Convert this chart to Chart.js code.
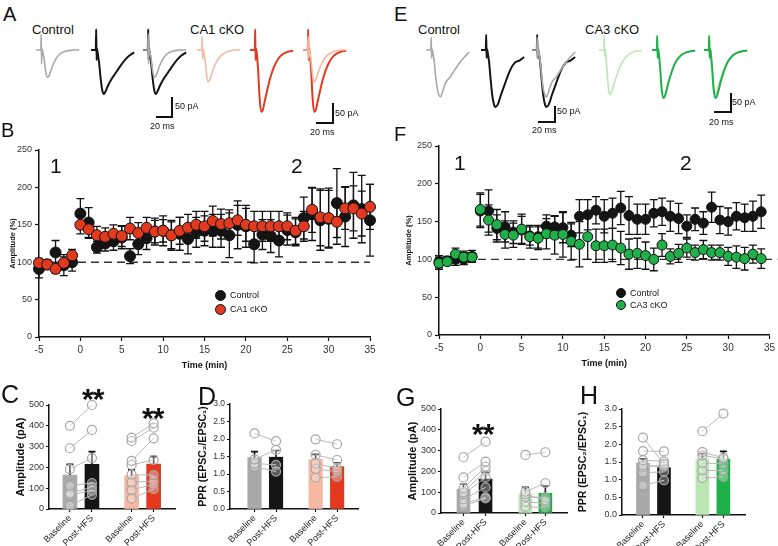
<!DOCTYPE html>
<html><head><meta charset="utf-8">
<script src="https://cdn.jsdelivr.net/npm/chart.js@4.4.0/dist/chart.umd.min.js"></script>
<style>
body{margin:0;background:#fff;}
#root{position:relative;width:778px;height:546px;overflow:hidden;font-family:Arial,"Liberation Sans",sans-serif;color:#111;background:#fff;}
canvas{position:absolute;}
.t{position:absolute;white-space:nowrap;line-height:1;}
.pl{font-size:20px;}
.pl2{font-size:25px;}
.num{font-size:21px;}
.lab{font-size:13px;}
.sbt{font-size:9px;}
.legt{font-size:9px;}
.sb{position:absolute;background:#111;}
.star{position:absolute;font-weight:bold;font-size:30px;line-height:1;letter-spacing:-1px;}
.leg{position:absolute;border-radius:50%;border:1px solid #111;box-sizing:border-box;}
</style></head><body><div id="root">
<!-- panel A -->
<div class="t pl" style="left:3px;top:4px">A</div>
<div class="t lab" style="left:32px;top:23px">Control</div>
<div class="t lab" style="left:190px;top:23px">CA1 cKO</div>
<canvas id="a1" width="44" height="100" style="left:36px;top:20px"></canvas>
<canvas id="a2" width="44" height="100" style="left:91px;top:20px"></canvas>
<canvas id="a3" width="44" height="100" style="left:143px;top:20px"></canvas>
<canvas id="a4" width="44" height="100" style="left:197px;top:20px"></canvas>
<canvas id="a5" width="44" height="100" style="left:250px;top:20px"></canvas>
<canvas id="a6" width="44" height="100" style="left:303px;top:20px"></canvas>
<div class="sb" style="left:171px;top:97px;width:1.5px;height:20px"></div>
<div class="sb" style="left:156px;top:116px;width:17px;height:1.5px"></div>
<div class="t sbt" style="left:175px;top:101.6px">50 pA</div>
<div class="t sbt" style="left:150px;top:121.6px">20 ms</div>
<div class="sb" style="left:332px;top:103px;width:1.5px;height:20px"></div>
<div class="sb" style="left:316px;top:122px;width:18px;height:1.5px"></div>
<div class="t sbt" style="left:335px;top:108.6px">50 pA</div>
<div class="t sbt" style="left:310px;top:127.6px">20 ms</div>
<!-- panel E -->
<div class="t pl" style="left:394px;top:4px">E</div>
<div class="t lab" style="left:418px;top:23px">Control</div>
<div class="t lab" style="left:585px;top:23px">CA3 cKO</div>
<canvas id="e1" width="44" height="100" style="left:426px;top:20px"></canvas>
<canvas id="e2" width="44" height="100" style="left:481px;top:20px"></canvas>
<canvas id="e3" width="44" height="100" style="left:532px;top:20px"></canvas>
<canvas id="e4" width="44" height="100" style="left:599px;top:20px"></canvas>
<canvas id="e5" width="44" height="100" style="left:652px;top:20px"></canvas>
<canvas id="e6" width="44" height="100" style="left:704px;top:20px"></canvas>
<div class="sb" style="left:554px;top:106px;width:1.5px;height:16px"></div>
<div class="sb" style="left:538px;top:121px;width:18px;height:1.5px"></div>
<div class="t sbt" style="left:557px;top:106.6px">50 pA</div>
<div class="t sbt" style="left:532px;top:125.6px">20 ms</div>
<div class="sb" style="left:730px;top:93px;width:1.5px;height:19px"></div>
<div class="sb" style="left:714px;top:111px;width:18px;height:1.5px"></div>
<div class="t sbt" style="left:732px;top:97.6px">50 pA</div>
<div class="t sbt" style="left:709px;top:117.6px">20 ms</div>
<!-- panel B / F -->
<canvas id="chartB" width="390" height="232" style="left:0px;top:140px"></canvas>
<canvas id="chartF" width="389" height="233" style="left:389px;top:136px"></canvas>
<div class="t pl" style="left:1px;top:120px">B</div>
<div class="t pl" style="left:394px;top:124px">F</div>
<div class="t num" style="left:50px;top:155px">1</div>
<div class="t num" style="left:291px;top:155px">2</div>
<div class="t num" style="left:454px;top:152px">1</div>
<div class="t num" style="left:680px;top:152px">2</div>
<div class="leg" style="left:214.5px;top:289.5px;width:11px;height:11px;background:#151515"></div>
<div class="leg" style="left:214.5px;top:303.5px;width:11px;height:11px;background:#e2391f"></div>
<div class="t legt" style="left:230px;top:290.6px">Control</div>
<div class="t legt" style="left:230px;top:304.6px">CA1 cKO</div>
<div class="leg" style="left:616px;top:288px;width:10px;height:10px;background:#151515"></div>
<div class="leg" style="left:616px;top:300px;width:10px;height:10px;background:#20b04a"></div>
<div class="t legt" style="left:630px;top:288.6px">Control</div>
<div class="t legt" style="left:630px;top:300.6px">CA3 cKO</div>
<!-- panels C D G H -->
<canvas id="chartC" width="185" height="151" style="left:0px;top:395px"></canvas>
<canvas id="chartD" width="183" height="152" style="left:185px;top:394px"></canvas>
<canvas id="chartG" width="190" height="147" style="left:389px;top:399px"></canvas>
<canvas id="chartH" width="203" height="147" style="left:575px;top:399px"></canvas>
<div class="t pl2" style="left:1px;top:382px">C</div>
<div class="t pl2" style="left:198px;top:384px">D</div>
<div class="t pl2" style="left:396px;top:385px">G</div>
<div class="t pl2" style="left:580px;top:383px">H</div>
<div class="star" style="left:82px;top:384px">**</div>
<div class="star" style="left:142px;top:403px">**</div>
<div class="star" style="left:472px;top:419px">**</div>
</div>
<script>
// ---------- time course data (B) ----------
const timeB = [-5,-4,-3,-2,-1,0,1,2,3,4,5,6,7,8,9,10,11,12,13,14,15,16,17,18,19,20,21,22,23,24,25,26,27,28,29,30,31,32,33,34,35];
const controlB = [91,97,113,96,100,165,153,120,125,128,133,108,124,132,141,142,136,138,131,140,142,142,142,136,150,148,124,137,135,129,143,140,159,164,156,158,179,161,176,171,156];
const controlBErr = [12,6,16,14,12,20,20,8,10,12,15,10,14,15,18,20,20,22,20,20,20,22,22,30,32,28,25,20,22,22,20,18,28,35,40,38,46,40,44,45,48];
const ca1B = [99,97,91,99,109,150,144,136,134,138,135,145,139,146,141,142,136,142,146,150,148,155,151,152,156,150,148,148,148,148,148,142,148,170,160,159,154,172,172,165,174];
const ca1BErr = [6,5,6,8,8,12,12,12,12,12,14,15,14,14,15,15,18,18,18,18,20,20,20,18,20,22,20,20,20,20,18,18,20,30,38,40,30,28,30,30,30];
// ---------- time course data (F) ----------
const timeF = [-5,-4,-3,-2,-1,0,1,2,3,4,5,6,7,8,9,10,11,12,13,14,15,16,17,18,19,20,21,22,23,24,25,26,27,28,29,30,31,32,33,34];
const controlF = [97,98,100,101,104,164,164,141,143,136,139,131,130,144,143,142,132,157,159,165,157,161,168,158,153,153,161,163,157,154,144,153,148,169,152,150,157,155,157,163];
const controlFErr = [8,6,8,8,8,22,28,18,20,15,18,12,15,15,15,20,15,22,20,18,22,20,22,25,20,20,18,18,20,20,15,15,15,20,18,18,18,18,20,22];
const ca3F = [95,97,107,103,103,166,152,146,133,132,140,130,128,134,132,133,124,120,130,118,118,119,115,107,108,105,100,119,104,108,115,109,113,109,109,104,103,101,107,101];
const ca3FErr = [8,5,8,8,6,22,20,20,18,16,20,15,15,20,25,30,25,30,30,22,22,22,22,20,20,18,15,15,10,12,12,10,12,10,10,12,15,15,12,13];
const timeTicks = [-5,0,5,10,15,20,25,30,35];
// ---------- bar panels ----------
const barLabels = ['Baseline','Post-HFS','Baseline','Post-HFS'];
const ampCMean = [163,215,160,216];
const ampCErr = [52,61,28,36];
const ampCCtrlBase = [400,292,192,112,75,68,16];
const ampCCtrlPost = [500,380,245,125,105,88,68];
const ampCCkoBase = [343,327,231,212,165,128,91,51];
const ampCCkoPost = [412,391,340,236,163,135,119,95];
const pprDMean = [1.47,1.48,1.42,1.21];
const pprDErr = [0.17,0.19,0.14,0.11];
const pprDCtrlBase = [2.16,1.42,1.30,1.21];
const pprDCtrlPost = [1.94,1.69,1.26,1.07];
const pprDCkoBase = [1.99,1.55,1.30,1.14,0.90];
const pprDCkoPost = [1.85,1.40,1.16,1.07,0.92];
const ampGMean = [114,163,91,95];
const ampGErr = [24,33,32,35];
const ampGCtrlBase = [268,171,118,100,91,66,45,34];
const ampGCtrlPost = [343,247,223,202,170,123,75,70];
const ampGCkoBase = [279,103,90,78,54,30];
const ampGCkoPost = [292,143,60,75,46,27];
const pprHMean = [1.47,1.34,1.59,1.58];
const pprHErr = [0.12,0.07,0.15,0.22];
const pprHCtrlBase = [2.19,1.81,1.55,1.41,1.36,1.20,0.84];
const pprHCtrlPost = [1.45,1.80,1.52,1.36,1.41,1.22,0.98];
const pprHCkoBase = [2.37,1.78,1.69,1.47,1.26,1.05];
const pprHCkoPost = [2.87,1.62,1.59,1.45,1.26,1.08];
// ---------- example traces (ms, pA) ----------
const traceT = [0,5,6,6.5,7,7.5,8,10,12,14,16,18,21,25,30,36,42,48,54];
const traceACtrlBase = [0,0,0,40,-35,2,0,-20,-52,-68,-66,-55,-38,-22,-10,-4,-1,0,0];
const traceACtrlPost = [0,0,2,52,-25,3,-2,-30,-70,-100,-110,-104,-90,-75,-60,-42,-26,-14,-6];
const traceACkoBase = [0,0,0,35,-22,2,0,-25,-62,-80,-74,-62,-45,-28,-14,-6,-2,0,0];
const traceACkoPost = [0,0,0,52,-25,3,0,-45,-120,-155,-150,-132,-105,-72,-42,-20,-9,-4,-2];
const traceECtrlBase = [0,0,0,40,-25,3,0,-30,-80,-120,-140,-147,-128,-100,-85,-62,-40,-22,-6];
const traceECtrlPost = [0,0,2,48,-25,3,-2,-35,-90,-140,-168,-178,-170,-140,-105,-65,-40,-33,-22];
const traceECkoBase = [0,0,0,45,-20,3,0,-60,-125,-140,-130,-112,-88,-60,-34,-16,-7,-3,-2];
const traceECkoPost = [0,0,0,45,-25,3,0,-50,-120,-150,-145,-128,-98,-65,-36,-17,-8,-4,-2];

// ---------- styles ----------
Chart.defaults.font.family = 'Arial, "Liberation Sans", sans-serif';
Chart.defaults.color = '#333';
const COL = {gray:'#a9a9a9', black:'#151515', pink:'#f6b8a2', red:'#e2391f', lgreen:'#bde6b5', green:'#20b04a'};

function drawErr(chart, index, upOnly) {
  const ds = chart.data.datasets[index];
  const meta = chart.getDatasetMeta(index);
  const ys = chart.scales.y, ctx = chart.ctx, cap = ds.errCap || 4;
  ctx.save();
  ctx.strokeStyle = '#111'; ctx.lineWidth = ds.errWidth || 1.3;
  meta.data.forEach((el, i) => {
    const v = ds.data[i].y, e = ds.errors[i], x = el.x;
    const yt = ys.getPixelForValue(v + e);
    const yb = upOnly ? ys.getPixelForValue(v) : ys.getPixelForValue(v - e);
    ctx.beginPath();
    ctx.moveTo(x, yt); ctx.lineTo(x, yb);
    ctx.moveTo(x - cap, yt); ctx.lineTo(x + cap, yt);
    if (!upOnly) { ctx.moveTo(x - cap, yb); ctx.lineTo(x + cap, yb); }
    ctx.stroke();
  });
  ctx.restore();
}
const errPlugin = {
  id: 'errPlugin',
  beforeDatasetDraw(chart, args) { const ds = chart.data.datasets[args.index]; if (ds.errors && !ds.errUp) drawErr(chart, args.index, false); },
  afterDatasetDraw(chart, args) { const ds = chart.data.datasets[args.index]; if (ds.errors && ds.errUp) drawErr(chart, args.index, true); }
};
const refLinePlugin = {
  id: 'refLine',
  beforeDatasetsDraw(chart, args, opts) {
    if (opts.value === undefined) return;
    const y = chart.scales.y.getPixelForValue(opts.value), a = chart.chartArea, ctx = chart.ctx;
    ctx.save(); ctx.strokeStyle = '#333'; ctx.lineWidth = 1.4; ctx.setLineDash([8, 5]);
    ctx.beginPath(); ctx.moveTo(a.left, y); ctx.lineTo(a.right + (opts.extend || 0), y); ctx.stroke(); ctx.restore();
  }
};
const axisGrid = {display:true, drawOnChartArea:false, drawTicks:true, tickLength:4, tickColor:'#111', tickWidth:1.2};
const axisBorder = {display:true, color:'#111', width:1.5};

function timeCourse(id, o) {
  new Chart(document.getElementById(id), {
    type: 'scatter',
    data: {datasets: [
      {data: o.t.map((t,i)=>({x:t, y:o.ctrl[i]})), errors:o.ctrlErr, errCap:4, backgroundColor:COL.black, borderColor:'#111', pointRadius:o.r, pointBorderWidth:1, clip:false, order:2},
      {data: o.t.map((t,i)=>({x:t, y:o.cko[i]})), errors:o.ckoErr, errCap:4, backgroundColor:o.ckoColor, borderColor:'#111', pointRadius:o.r, pointBorderWidth:1, clip:false, order:1}
    ]},
    options: {
      responsive:false, animation:false, devicePixelRatio:1, events:[],
      layout:{padding:{top:10, right:o.padR, left:0, bottom:0}},
      plugins:{legend:{display:false}, tooltip:{enabled:false}, refLine:{value:100, extend:o.ext}},
      scales:{
        x:{type:'linear', min:-5, max:35, offset:false,
           afterBuildTicks:(ax)=>{ ax.ticks = timeTicks.map(v=>({value:v})); },
           ticks:{font:{size:10}, color:'#333', padding:3, autoSkip:false, maxRotation:0},
           grid:axisGrid, border:axisBorder,
           title:{display:true, text:'Time (min)', font:{size:9, weight:'bold'}, color:'#111', padding:{top:0, bottom:o.tPadB}},
           afterFit:(ax)=>{ ax.height = o.xH; }},
        y:{min:0, max:250,
           ticks:{stepSize:50, font:{size:9}, color:'#333', padding:3},
           grid:axisGrid, border:axisBorder,
           title:{display:true, text:'Amplitude (%)', font:{size:7.5, weight:'bold'}, color:'#111', padding:{top:o.yPadT, bottom:0}},
           afterFit:(ax)=>{ ax.width = o.yW; }}
      }
    },
    plugins:[errPlugin, refLinePlugin]
  });
}
timeCourse('chartB', {t:timeB, ctrl:controlB, ctrlErr:controlBErr, cko:ca1B, ckoErr:ca1BErr, ckoColor:COL.red, r:5.5, padR:20, ext:0, xH:35, yW:39, tPadB:1, yPadT:8.5});
timeCourse('chartF', {t:timeF, ctrl:controlF, ctrlErr:controlFErr, cko:ca3F, ckoErr:ca3FErr, ckoColor:COL.green, r:5, padR:8, ext:8, xH:34, yW:50, tPadB:0, yPadT:15});

function barPanel(id, o) {
  const ds = [{type:'bar', data:o.slots.map((s,i)=>({x:s, y:o.mean[i]})), backgroundColor:o.colors, barThickness:o.barW, errors:o.err, errUp:true, errCap:3.5, errWidth:1.6, order:3}];
  const pairs = [[o.slots[0], o.slots[1], o.ctrlBase, o.ctrlPost], [o.slots[2], o.slots[3], o.ckoBase, o.ckoPost]];
  pairs.forEach(([sa, sb, base, post]) => base.forEach((b, i) => ds.push({
    type:'line', data:[{x:sa, y:b}, {x:sb, y:post[i]}], borderColor:'#b8b8b8', borderWidth:1,
    pointRadius:4.5, pointBorderColor:'#a5a5a5', pointBackgroundColor:'rgba(255,255,255,0.3)', pointBorderWidth:1.2, clip:false, order:1
  })));
  new Chart(document.getElementById(id), {
    type:'bar',
    data:{datasets:ds},
    options:{
      responsive:false, animation:false, devicePixelRatio:1, events:[],
      layout:{padding:{top:10, right:o.padR, left:0, bottom:0}},
      plugins:{legend:{display:false}, tooltip:{enabled:false}},
      scales:{
        x:{type:'linear', min:o.xr[0], max:o.xr[1], offset:false,
           afterBuildTicks:(ax)=>{ ax.ticks = o.slots.map(v=>({value:v})); },
           ticks:{callback:(v,i)=>barLabels[i], font:{size:9}, color:'#222', padding:1, autoSkip:false, minRotation:45, maxRotation:45},
           grid:{...axisGrid, tickLength:3, offset:false}, border:axisBorder,
           afterFit:(ax)=>{ ax.height = o.xH; }},
        y:{min:0, max:o.yMax,
           ticks:{stepSize:o.step, font:{size:o.tickSize}, color:'#333', padding:2, callback:o.fmt},
           grid:{...axisGrid, tickLength:3}, border:axisBorder,
           title:{display:true, text:o.title, font:{size:o.titleSize, weight:'bold'}, color:'#111', padding:{top:o.yPadT, bottom:0}},
           afterFit:(ax)=>{ ax.width = o.yW; }}
      }
    },
    plugins:[errPlugin]
  });
}
const fmtInt = (v)=>String(v);
const fmt1 = (v)=>v.toFixed(1);
barPanel('chartC', {slots:[0,1,2.8,3.8], xr:[-0.95,4.77], barW:14, mean:ampCMean, err:ampCErr, colors:[COL.gray,COL.black,COL.pink,COL.red],
  ctrlBase:ampCCtrlBase, ctrlPost:ampCCtrlPost, ckoBase:ampCCkoBase, ckoPost:ampCCkoPost,
  yMax:500, step:100, fmt:fmtInt, tickSize:9, title:'Amplitude (pA)', titleSize:11, yPadT:14.4, yW:49, xH:37, padR:10});
barPanel('chartD', {slots:[0,1,2.84,3.84], xr:[-1.14,4.81], barW:13.5, mean:pprDMean, err:pprDErr, colors:[COL.gray,COL.black,COL.pink,COL.red],
  ctrlBase:pprDCtrlBase, ctrlPost:pprDCtrlPost, ckoBase:pprDCkoBase, ckoPost:pprDCkoPost,
  yMax:3, step:0.5, fmt:fmt1, tickSize:8.5, title:'PPR (EPSC₂/EPSC₁)', titleSize:10.5, yPadT:11.7, yW:45, xH:37, padR:10});
barPanel('chartG', {slots:[0,1.05,2.95,3.9], xr:[-1.07,4.93], barW:13, mean:ampGMean, err:ampGErr, colors:[COL.gray,COL.black,COL.lgreen,COL.green],
  ctrlBase:ampGCtrlBase, ctrlPost:ampGCtrlPost, ckoBase:ampGCkoBase, ckoPost:ampGCkoPost,
  yMax:500, step:100, fmt:fmtInt, tickSize:9, title:'Amplitude (pA)', titleSize:11, yPadT:17, yW:52, xH:33, padR:12});
barPanel('chartH', {slots:[0,1,2.83,3.83], xr:[-1,4.86], barW:13, mean:pprHMean, err:pprHErr, colors:[COL.gray,COL.black,COL.lgreen,COL.green],
  ctrlBase:pprHCtrlBase, ctrlPost:pprHCtrlPost, ckoBase:pprHCkoBase, ckoPost:pprHCkoPost,
  yMax:3, step:0.5, fmt:fmt1, tickSize:9, title:'PPR (EPSC₂/EPSC₁)', titleSize:10.5, yPadT:2.2, yW:47, xH:31, padR:33});

function traceChart(id, traces, yMin, yMax) {
  new Chart(document.getElementById(id), {
    type:'line',
    data:{datasets: traces.map(tr => ({data: traceT.map((t,i)=>({x:t, y:tr.v[i]})), borderColor:tr.c, borderWidth:tr.w, pointRadius:0, cubicInterpolationMode:'monotone', clip:false}))},
    options:{responsive:false, animation:false, devicePixelRatio:1, events:[], layout:{padding:0},
      plugins:{legend:{display:false}, tooltip:{enabled:false}},
      scales:{x:{type:'linear', display:false, min:0, max:55}, y:{display:false, min:yMin, max:yMax}}}
  });
}
const A_MIN = -175, A_MAX = 75, E_MIN = -219, E_MAX = 94;
traceChart('a1', [{v:traceACtrlBase, c:COL.gray, w:1.6}], A_MIN, A_MAX);
traceChart('a2', [{v:traceACtrlPost, c:COL.black, w:2}], A_MIN, A_MAX);
traceChart('a3', [{v:traceACtrlBase, c:COL.gray, w:1.6}, {v:traceACtrlPost, c:COL.black, w:2}], A_MIN, A_MAX);
traceChart('a4', [{v:traceACkoBase, c:COL.pink, w:1.6}], A_MIN, A_MAX);
traceChart('a5', [{v:traceACkoPost, c:COL.red, w:2}], A_MIN, A_MAX);
traceChart('a6', [{v:traceACkoBase, c:COL.pink, w:1.6}, {v:traceACkoPost, c:COL.red, w:2}], A_MIN, A_MAX);
traceChart('e1', [{v:traceECtrlBase, c:COL.gray, w:1.6}], E_MIN, E_MAX);
traceChart('e2', [{v:traceECtrlPost, c:COL.black, w:2}], E_MIN, E_MAX);
traceChart('e3', [{v:traceECtrlBase, c:COL.gray, w:1.6}, {v:traceECtrlPost, c:COL.black, w:2}], E_MIN, E_MAX);
traceChart('e4', [{v:traceECkoBase, c:COL.lgreen, w:1.6}], E_MIN, E_MAX);
traceChart('e5', [{v:traceECkoPost, c:COL.green, w:2}], E_MIN, E_MAX);
traceChart('e6', [{v:traceECkoPost, c:COL.green, w:2}, {v:traceECkoBase, c:COL.lgreen, w:1.6}], E_MIN, E_MAX);
</script>
</body></html>
